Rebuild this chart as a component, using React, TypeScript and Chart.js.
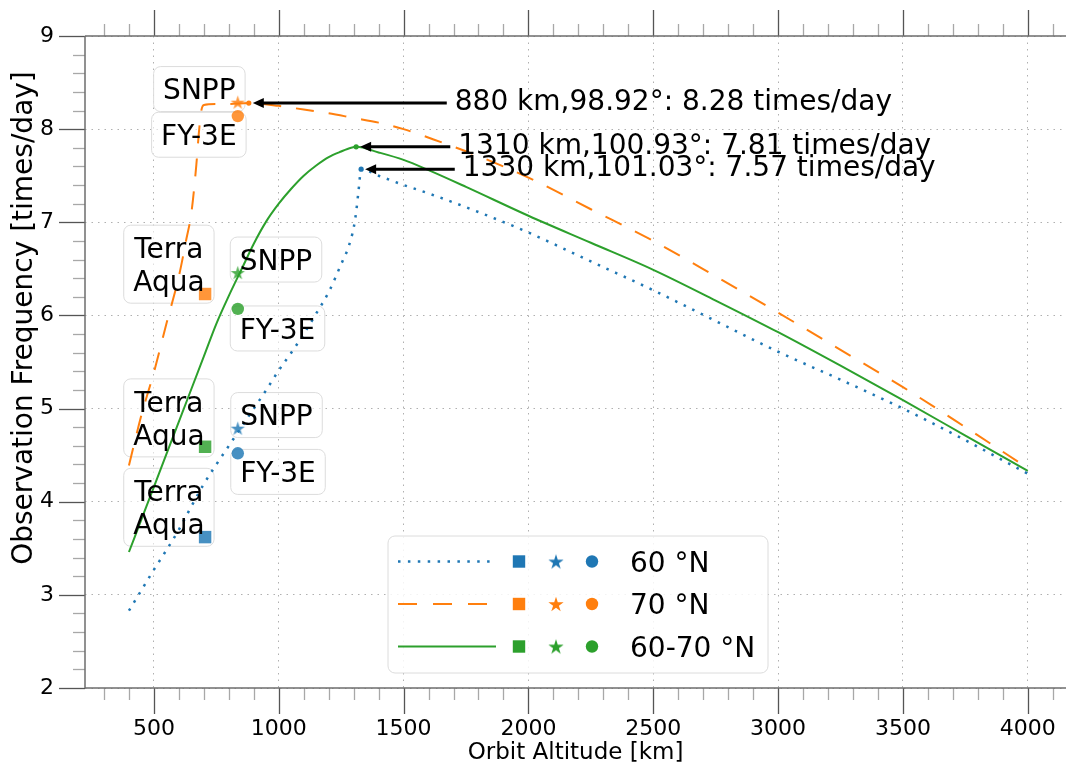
import React, { useEffect, useRef } from 'react';
import { Chart, registerables } from 'chart.js';

Chart.register(...registerables);

const FONT = "'DejaVu Sans', 'Liberation Sans', sans-serif";

// ---------- data ----------
// 60 °N curve
const alt60 = [400, 450, 500, 550, 600, 650, 700, 750, 800, 850, 900, 950, 1000, 1050, 1100, 1150, 1200, 1250, 1280, 1300, 1310, 1320, 1330, 1400, 1500, 1600, 1800, 2000, 2250, 2500, 2750, 3000, 3250, 3500, 3750, 4000];
const freq60 = [2.83, 3.05, 3.27, 3.48, 3.70, 3.95, 4.19, 4.40, 4.60, 4.80, 5.00, 5.20, 5.41, 5.60, 5.80, 6.02, 6.25, 6.55, 6.74, 6.94, 7.11, 7.35, 7.57, 7.50, 7.40, 7.31, 7.11, 6.89, 6.58, 6.27, 5.94, 5.61, 5.31, 5.00, 4.66, 4.30];

// 70 °N curve
const alt70 = [400, 450, 500, 550, 600, 630, 650, 670, 680, 690, 700, 750, 800, 880, 1000, 1100, 1200, 1300, 1400, 1500, 1650, 1800, 2000, 2250, 2500, 2750, 3000, 3250, 3500, 3750, 4000];
const freq70 = [4.39, 4.93, 5.39, 5.91, 6.42, 6.82, 7.10, 7.62, 7.96, 8.20, 8.26, 8.27, 8.27, 8.28, 8.25, 8.21, 8.17, 8.12, 8.07, 8.00, 7.86, 7.71, 7.48, 7.14, 6.80, 6.42, 6.03, 5.63, 5.23, 4.80, 4.36];

// 60-70 °N curve
const alt6070 = [400, 450, 500, 550, 600, 650, 700, 750, 800, 850, 900, 950, 1000, 1050, 1100, 1150, 1200, 1250, 1290, 1310, 1400, 1500, 1600, 1750, 2000, 2250, 2500, 2750, 3000, 3250, 3500, 3750, 4000];
const freq6070 = [3.46, 3.81, 4.16, 4.51, 4.86, 5.21, 5.56, 5.91, 6.21, 6.49, 6.77, 7.01, 7.20, 7.36, 7.50, 7.61, 7.70, 7.76, 7.80, 7.81, 7.75, 7.67, 7.56, 7.38, 7.07, 6.78, 6.49, 6.16, 5.82, 5.46, 5.09, 4.71, 4.33];

// satellites: Terra/Aqua, SNPP, FY-3E
const satNames = ['Terra\nAqua', 'SNPP', 'FY-3E'];
const satAltitudes = [705, 836, 836];
const sat60 = [3.62, 4.79, 4.52];
const sat70 = [6.23, 8.29, 8.14];
const sat6070 = [4.59, 6.46, 6.07];

// optimum points: 60 °N, 70 °N, 60-70 °N
const peakAlt = [1330, 880, 1310];
const peakFreq = [7.57, 8.28, 7.81];
const peakIncl = ['101.03', '98.92', '100.93'];

const seriesNames = ['60 \u00b0N', '70 \u00b0N', '60-70 \u00b0N'];

const xMajorTicks = [500, 1000, 1500, 2000, 2500, 3000, 3500, 4000];
const xMinorTicks = [300, 400, 600, 700, 800, 900, 1100, 1200, 1300, 1400, 1600, 1700, 1800, 1900, 2100, 2200, 2300, 2400, 2600, 2700, 2800, 2900, 3100, 3200, 3300, 3400, 3600, 3700, 3800, 3900, 4100];
const yMajorTicks = [2, 3, 4, 5, 6, 7, 8, 9];
const yMinorTicks = [2.2, 2.4, 2.6, 2.8, 3.2, 3.4, 3.6, 3.8, 4.2, 4.4, 4.6, 4.8, 5.2, 5.4, 5.6, 5.8, 6.2, 6.4, 6.6, 6.8, 7.2, 7.4, 7.6, 7.8, 8.2, 8.4, 8.6, 8.8];

const xTitle = 'Orbit Altitude [km]';
const yTitle = 'Observation Frequency [times/day]';

// ---------- layout / style (not data) ----------
const COLORS = ['#1f77b4', '#ff7f0e', '#2ca02c'];
const COLORS_A = ['rgba(31,119,180,0.82)', 'rgba(255,127,14,0.82)', 'rgba(44,160,44,0.82)'];
const DASHES = [[2.5, 7], [18, 15], []];
const LEGEND_DASHES = [[2.5, 7.4], [19, 16], []];

// label box anchors in data coordinates: [series][satellite index]
const labelAnchors = [
  // 60 °N
  [{ x: 560, y: 3.94 }, { x: 991, y: 4.93 }, { x: 997, y: 4.32 }],
  // 70 °N
  [{ x: 560, y: 6.55 }, { x: 682, y: 8.43 }, { x: 680, y: 7.94 }],
  // 60-70 °N
  [{ x: 560, y: 4.9 }, { x: 989, y: 6.6 }, { x: 995, y: 5.86 }],
];
const annotTextX = [1737, 1705, 1719];

function makeStar(color: string, R: number): HTMLCanvasElement {
  const size = Math.ceil(R * 2 + 4);
  const c = document.createElement('canvas');
  c.width = size;
  c.height = size;
  const g = c.getContext('2d')!;
  const cx = size / 2;
  const cy = size / 2 + R * 0.1;
  const r = R * 0.382;
  g.beginPath();
  for (let i = 0; i < 10; i++) {
    const rad = i % 2 === 0 ? R : r;
    const a = -Math.PI / 2 + (i * Math.PI) / 5;
    const px = cx + rad * Math.cos(a);
    const py = cy + rad * Math.sin(a);
    if (i === 0) g.moveTo(px, py);
    else g.lineTo(px, py);
  }
  g.closePath();
  g.fillStyle = color;
  g.fill();
  return c;
}

function roundRect(ctx: CanvasRenderingContext2D, x: number, y: number, w: number, h: number, r: number) {
  ctx.beginPath();
  ctx.moveTo(x + r, y);
  ctx.lineTo(x + w - r, y);
  ctx.arcTo(x + w, y, x + w, y + r, r);
  ctx.lineTo(x + w, y + h - r);
  ctx.arcTo(x + w, y + h, x + w - r, y + h, r);
  ctx.lineTo(x + r, y + h);
  ctx.arcTo(x, y + h, x, y + h - r, r);
  ctx.lineTo(x, y + r);
  ctx.arcTo(x, y, x + r, y, r);
  ctx.closePath();
}

const LABEL_FONT = `28px ${FONT}`;
const CAP = 0.729 * 28;

function labelBoxes(chart: any) {
  const xs = chart.scales.x;
  const ys = chart.scales.y;
  const ctx: CanvasRenderingContext2D = chart.ctx;
  ctx.save();
  ctx.font = LABEL_FONT;
  const boxes: any[] = [];
  labelAnchors.forEach((row) => {
    row.forEach((a, j) => {
      const lines = satNames[j].split('\n');
      const w = Math.max(...lines.map((l) => ctx.measureText(l).width)) + 19;
      const h = lines.length * 33 + 12;
      const cx = xs.getPixelForValue(a.x);
      const cy = ys.getPixelForValue(a.y);
      boxes.push({ lines, cx, cy, w, h });
    });
  });
  ctx.restore();
  return boxes;
}

const decorPlugin = {
  id: 'decor',
  beforeDatasetsDraw(chart: any) {
    const ctx: CanvasRenderingContext2D = chart.ctx;
    const boxes = labelBoxes(chart);
    ctx.save();
    boxes.forEach((b) => {
      roundRect(ctx, b.cx - b.w / 2, b.cy - b.h / 2, b.w, b.h, 7);
      ctx.fillStyle = 'rgba(255,255,255,0.6)';
      ctx.fill();
      ctx.lineWidth = 1;
      ctx.strokeStyle = '#dcdcdc';
      ctx.stroke();
    });
    ctx.restore();
  },
  afterDatasetsDraw(chart: any) {
    const ctx: CanvasRenderingContext2D = chart.ctx;
    const xs = chart.scales.x;
    const ys = chart.scales.y;
    const boxes = labelBoxes(chart);
    ctx.save();
    ctx.font = LABEL_FONT;
    ctx.fillStyle = '#000';
    ctx.textAlign = 'center';
    ctx.textBaseline = 'alphabetic';
    boxes.forEach((b) => {
      const n = b.lines.length;
      b.lines.forEach((l: string, k: number) => {
        const cy = b.cy + (k - (n - 1) / 2) * 33;
        ctx.fillText(l, b.cx, cy + CAP / 2);
      });
    });

    // arrows and optimum annotations
    ctx.textAlign = 'left';
    peakAlt.forEach((alt, i) => {
      const px = xs.getPixelForValue(alt);
      const py = ys.getPixelForValue(peakFreq[i]);
      const tx = xs.getPixelForValue(annotTextX[i]);
      const tip = px + 4;
      const headLen = 11;
      const headHalf = 5;
      ctx.strokeStyle = '#000';
      ctx.fillStyle = '#000';
      ctx.lineWidth = 3;
      ctx.setLineDash([]);
      ctx.beginPath();
      ctx.moveTo(tx - 8, py);
      ctx.lineTo(tip + headLen - 1, py);
      ctx.stroke();
      ctx.beginPath();
      ctx.moveTo(tip, py);
      ctx.lineTo(tip + headLen, py - headHalf);
      ctx.lineTo(tip + headLen, py + headHalf);
      ctx.closePath();
      ctx.fill();
      const txt = `${alt} km,${peakIncl[i]}\u00b0: ${peakFreq[i].toFixed(2)} times/day`;
      ctx.fillText(txt, tx, py - 3 + CAP / 2);
    });

    // legend
    const lx = 388, ly = 536, lw = 380, lh = 137;
    roundRect(ctx, lx, ly, lw, lh, 7);
    ctx.fillStyle = 'rgba(255,255,255,0.85)';
    ctx.fill();
    ctx.lineWidth = 1;
    ctx.strokeStyle = '#dcdcdc';
    ctx.stroke();
    seriesNames.forEach((name, i) => {
      const y = 561.5 + i * 42.5;
      ctx.strokeStyle = COLORS[i];
      ctx.lineWidth = i === 0 ? 2.5 : 2;
      ctx.setLineDash(LEGEND_DASHES[i]);
      ctx.beginPath();
      ctx.moveTo(398, y);
      ctx.lineTo(496, y);
      ctx.stroke();
      ctx.setLineDash([]);
      ctx.fillStyle = COLORS[i];
      ctx.fillRect(519 - 6.2, y - 6.2, 12.4, 12.4);
      const st = makeStar(COLORS[i], 8);
      ctx.drawImage(st, 556 - st.width / 2, y - st.height / 2);
      ctx.beginPath();
      ctx.arc(592, y, 6.2, 0, Math.PI * 2);
      ctx.fill();
      ctx.fillStyle = '#000';
      ctx.font = LABEL_FONT;
      ctx.textAlign = 'left';
      ctx.fillText(name, 630, y + CAP / 2);
    });
    ctx.restore();
  },
  afterDraw(chart: any) {
    const ctx: CanvasRenderingContext2D = chart.ctx;
    const { left, right, top, bottom } = chart.chartArea;
    const xs = chart.scales.x;
    const ys = chart.scales.y;
    ctx.save();
    ctx.setLineDash([]);
    const MAJ = 26, MIN = 12;
    const xAll = [...xMajorTicks.map((v) => [v, 1]), ...xMinorTicks.map((v) => [v, 0])];
    xAll.forEach(([v, major]) => {
      const p = Math.round(xs.getPixelForValue(v)) + 0.5;
      if (p < left || p > right) return;
      const L = major ? MAJ : MIN;
      ctx.strokeStyle = major ? '#555' : '#a8a8a8';
      ctx.lineWidth = 1.3;
      ctx.beginPath();
      ctx.moveTo(p, bottom);
      ctx.lineTo(p, bottom + L);
      ctx.moveTo(p, top);
      ctx.lineTo(p, top - L);
      ctx.stroke();
    });
    const yAll = [...yMajorTicks.map((v) => [v, 1]), ...yMinorTicks.map((v) => [v, 0])];
    yAll.forEach(([v, major]) => {
      const p = Math.round(ys.getPixelForValue(v)) + 0.5;
      const L = major ? MAJ : MIN;
      ctx.strokeStyle = major ? '#555' : '#a8a8a8';
      ctx.lineWidth = 1.3;
      ctx.beginPath();
      ctx.moveTo(left, p);
      ctx.lineTo(left - L, p);
      ctx.stroke();
    });
    ctx.strokeStyle = '#6e6e6e';
    ctx.lineWidth = 1.5;
    ctx.beginPath();
    ctx.moveTo(left, top);
    ctx.lineTo(left, bottom);
    ctx.moveTo(left, top);
    ctx.lineTo(right, top);
    ctx.moveTo(left, bottom);
    ctx.lineTo(right, bottom);
    ctx.stroke();

    // y-axis title
    ctx.fillStyle = '#000';
    ctx.font = `28px ${FONT}`;
    ctx.textAlign = 'center';
    ctx.textBaseline = 'middle';
    ctx.translate(25, 318);
    ctx.rotate(-Math.PI / 2);
    ctx.fillText(yTitle, 0, 0);
    ctx.restore();
  },
};

export default function App() {
  const ref = useRef<HTMLCanvasElement>(null);
  useEffect(() => {
    const canvas = ref.current!;
    const pts = (xs: number[], ys: number[]) => xs.map((x, i) => ({ x, y: ys[i] }));
    const lineSets = [
      [alt60, freq60],
      [alt70, freq70],
      [alt6070, freq6070],
    ].map(([xs, ys], i) => ({
      type: 'line',
      label: seriesNames[i],
      data: pts(xs, ys),
      borderColor: COLORS[i],
      borderWidth: i === 0 ? 2.5 : 2,
      borderDash: DASHES[i],
      pointRadius: 0,
      fill: false,
      tension: 0,
      cubicInterpolationMode: 'monotone',
      order: 3,
    }));
    const satSeries = [sat60, sat70, sat6070];
    const markerSets = satSeries.map((vals, i) => ({
      type: 'scatter',
      label: seriesNames[i] + ' satellites',
      data: pts(satAltitudes, vals),
      pointStyle: ['rect', makeStar(COLORS_A[i], 7.5), 'circle'],
      pointRadius: [8.8, 8, 6.2],
      backgroundColor: COLORS_A[i],
      borderWidth: 0,
      showLine: false,
      order: 1,
    }));
    const peakSets = peakAlt.map((a, i) => ({
      type: 'scatter',
      label: seriesNames[i] + ' optimum',
      data: [{ x: a, y: peakFreq[i] }],
      pointStyle: 'circle',
      pointRadius: 2.6,
      backgroundColor: COLORS[i],
      borderWidth: 0,
      showLine: false,
      order: 2,
    }));

    const chart = new Chart(canvas, {
      type: 'line',
      data: { datasets: [...lineSets, ...peakSets, ...markerSets] as any },
      options: {
        animation: false,
        responsive: false,
        maintainAspectRatio: false,
        layout: { autoPadding: false, padding: { top: 36, left: 0, right: 0, bottom: 0 } },
        plugins: { legend: { display: false }, tooltip: { enabled: false } },
        scales: {
          x: {
            type: 'linear',
            position: 'bottom',
            min: 224,
            max: 4153,
            afterBuildTicks: (s: any) => {
              s.ticks = xMajorTicks.map((v) => ({ value: v }));
            },
            afterFit: (s: any) => {
              s.height = 79;
            },
            ticks: {
              autoSkip: false,
              maxRotation: 0,
              minRotation: 0,
              padding: 2,
              color: '#000',
              font: { family: FONT, size: 22 },
              callback: (v: any) => String(v),
            },
            grid: {
              drawTicks: true,
              tickLength: 26,
              tickColor: 'rgba(0,0,0,0)',
              color: '#b0b0b0',
              lineWidth: 1,
            },
            border: { display: false, dash: [1.5, 5] },
            title: {
              display: true,
              text: xTitle,
              color: '#000',
              font: { family: FONT, size: 23 },
              padding: { top: 0, bottom: 0 },
            },
          },
          y: {
            type: 'linear',
            position: 'left',
            min: 2,
            max: 9,
            afterBuildTicks: (s: any) => {
              s.ticks = yMajorTicks.map((v) => ({ value: v }));
            },
            afterFit: (s: any) => {
              s.width = 85;
            },
            ticks: {
              autoSkip: false,
              padding: 5,
              color: '#000',
              font: { family: FONT, size: 22 },
              callback: (v: any) => String(v),
            },
            grid: {
              drawTicks: true,
              tickLength: 26,
              tickColor: 'rgba(0,0,0,0)',
              color: '#b0b0b0',
              lineWidth: 1,
            },
            border: { display: false, dash: [1.5, 5] },
            title: { display: false },
          },
        },
      } as any,
      plugins: [decorPlugin],
    });
    return () => chart.destroy();
  }, []);

  return (
    <div style={{ position: 'fixed', left: 0, top: 0, width: 1066, height: 767, background: '#fff' }}>
      <canvas ref={ref} width={1066} height={767} style={{ display: 'block', width: 1066, height: 767 }} />
    </div>
  );
}
